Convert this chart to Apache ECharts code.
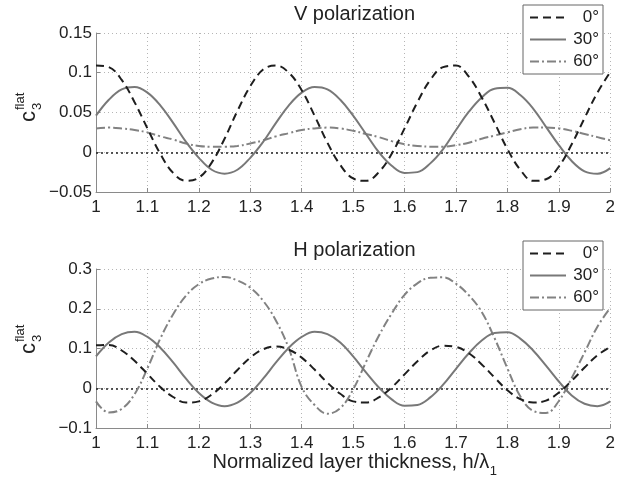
<!DOCTYPE html>
<html><head><meta charset="utf-8">
<script src="https://cdn.jsdelivr.net/npm/echarts@6/dist/echarts.min.js"></script>
<style>html,body{margin:0;padding:0;background:#fff}#c{width:618px;height:482px}</style>
</head><body><div id="c"></div>
<script>
// ---- data ----
const thickness = [1.000,1.025,1.050,1.075,1.100,1.125,1.150,1.175,1.200,1.225,1.250,1.275,1.300,1.325,1.350,1.375,1.400,1.425,1.450,1.475,1.500,1.525,1.550,1.575,1.600,1.625,1.650,1.675,1.700,1.725,1.750,1.775,1.800,1.825,1.850,1.875,1.900,1.925,1.950,1.975,2.000];
const seriesNames = ['0°', '30°', '60°'];
// V polarization
const vDeg0  = [0.109,0.107,0.091,0.063,0.030,-0.002,-0.026,-0.036,-0.032,-0.013,0.017,0.052,0.083,0.104,0.109,0.100,0.078,0.046,0.012,-0.016,-0.033,-0.036,-0.025,-0.002,0.030,0.063,0.091,0.107,0.109,0.095,0.069,0.037,0.004,-0.022,-0.036,-0.034,-0.018,0.010,0.043,0.075,0.101];
const vDeg30 = [0.046,0.066,0.079,0.082,0.075,0.059,0.037,0.013,-0.007,-0.022,-0.027,-0.022,-0.007,0.013,0.037,0.059,0.075,0.082,0.079,0.066,0.046,0.023,0.000,-0.017,-0.026,-0.025,-0.014,0.004,0.028,0.051,0.069,0.080,0.081,0.072,0.055,0.032,0.009,-0.011,-0.024,-0.027,-0.020];
const vDeg60 = [0.030,0.031,0.030,0.028,0.025,0.020,0.016,0.011,0.008,0.007,0.007,0.008,0.011,0.015,0.020,0.024,0.028,0.030,0.031,0.030,0.027,0.023,0.019,0.014,0.010,0.008,0.007,0.007,0.009,0.012,0.017,0.021,0.025,0.029,0.031,0.031,0.030,0.027,0.023,0.019,0.015];
// H polarization
const hDeg0  = [0.108,0.109,0.095,0.069,0.036,0.003,-0.022,-0.036,-0.033,-0.016,0.012,0.046,0.077,0.098,0.105,0.097,0.077,0.047,0.014,-0.014,-0.033,-0.036,-0.023,0.002,0.035,0.068,0.095,0.107,0.104,0.088,0.060,0.027,-0.005,-0.027,-0.036,-0.031,-0.011,0.019,0.052,0.083,0.104];
const hDeg30 = [0.080,0.115,0.136,0.142,0.129,0.102,0.065,0.024,-0.012,-0.036,-0.045,-0.036,-0.012,0.024,0.065,0.102,0.129,0.142,0.136,0.115,0.080,0.040,0.002,-0.028,-0.044,-0.042,-0.023,0.009,0.049,0.088,0.120,0.139,0.141,0.125,0.095,0.057,0.017,-0.018,-0.039,-0.045,-0.033];
const hDeg60 = [-0.033,-0.061,-0.052,-0.015,0.050,0.125,0.186,0.233,0.262,0.276,0.280,0.271,0.253,0.220,0.170,0.100,0.003,-0.042,-0.064,-0.050,-0.003,0.066,0.132,0.188,0.235,0.264,0.278,0.279,0.263,0.234,0.192,0.126,0.050,-0.020,-0.057,-0.062,-0.032,0.026,0.090,0.155,0.202];
// ticks and texts
const xTickLabels = ['1','1.1','1.2','1.3','1.4','1.5','1.6','1.7','1.8','1.9','2'];
const vTickLabels = ['\u22120.05','0','0.05','0.1','0.15'];
const hTickLabels = ['\u22120.1','0','0.1','0.2','0.3'];
const panelTitles = ['V polarization', 'H polarization'];
const xAxisTitle = 'Normalized layer thickness, h/\u03bb';
const xAxisTitleSub = '1';

// ---- chart ----
const FONT = '"Liberation Sans", Arial, Helvetica, sans-serif';
const chart = echarts.init(document.getElementById('c'), null, {renderer: 'canvas'});
const panels = [
  {top: 33, min: -0.05, max: 0.15, interval: 0.05, labels: vTickLabels, data: [vDeg0, vDeg30, vDeg60]},
  {top: 269, min: -0.1, max: 0.3, interval: 0.1, labels: hTickLabels, data: [hDeg0, hDeg30, hDeg60]}
];
const lineStyles = [
  {color: '#1e1e1e', type: [8, 5], width: 2},
  {color: '#787878', type: 'solid', width: 2},
  {color: '#828282', type: [9, 3, 2, 3], width: 2}
];

function measure(t, size) {
  const c = document.createElement('canvas').getContext('2d');
  c.font = size + 'px ' + FONT;
  return c.measureText(t).width;
}

const series = [];
panels.forEach((p, k) => {
  p.data.forEach((arr, j) => {
    const s = {
      name: seriesNames[j], type: 'line', xAxisIndex: k, yAxisIndex: k,
      data: thickness.map((x, i) => [x, arr[i]]),
      showSymbol: false, symbol: 'none', smooth: 0.4,
      lineStyle: lineStyles[j], itemStyle: {color: lineStyles[j].color},
      z: 3 + (2 - j)
    };
    if (j === 0) {
      s.markLine = {silent: true, symbol: 'none', label: {show: false},
        lineStyle: {type: [2, 3], color: '#222', width: 1.6}, data: [{yAxis: 0}], z: 2};
    }
    series.push(s);
  });
});

const xNameSize = 20, subSize = 13;
const wMain = measure(xAxisTitle, xNameSize), wSub = measure(xAxisTitleSub, subSize);
const xName0 = 354.5 - (wMain + wSub) / 2;

function yLabel(gx, gy) {
  const base = {fontFamily: FONT, fill: '#222', align: 'left', verticalAlign: 'middle', textAlign: 'left', textVerticalAlign: 'middle'};
  return {
    type: 'group', x: gx, y: gy, rotation: Math.PI / 2,
    children: [
      {type: 'text', style: Object.assign({text: 'c', x: 0, y: -7.7, fontSize: 22}, base)},
      {type: 'text', style: Object.assign({text: '3', x: 12, y: 0.5, fontSize: 13}, base)},
      {type: 'text', style: Object.assign({text: 'flat', x: 12, y: -16.5, fontSize: 13}, base)}
    ]
  };
}
function txt(text, x, y, size, align) {
  return {type: 'text', style: {text, x, y, fontSize: size, fontFamily: FONT, fill: '#222',
    align: align, verticalAlign: 'middle', textAlign: align, textVerticalAlign: 'middle'}};
}

const option = {
  animation: false,
  backgroundColor: '#fff',
  textStyle: {fontFamily: FONT},
  grid: panels.map(p => ({left: 96, top: p.top, width: 517, height: 159, containLabel: false})),
  xAxis: panels.map((p, k) => ({
    type: 'value', gridIndex: k, min: 1, max: 2, interval: 0.1,
    axisLine: {show: true, onZero: false, lineStyle: {color: '#8a8a8a', width: 1}},
    axisTick: {show: true, inside: true, length: 4, lineStyle: {color: '#8a8a8a'}},
    axisLabel: {fontSize: 17, color: '#222', margin: 7, fontFamily: FONT,
      formatter: v => xTickLabels[Math.round((v - 1) / 0.1)]},
    splitLine: {show: true, lineStyle: {type: [1, 3], color: '#b5b5b5', width: 1}}
  })),
  yAxis: panels.map((p, k) => ({
    type: 'value', gridIndex: k, min: p.min, max: p.max, interval: p.interval,
    axisLine: {show: true, onZero: false, lineStyle: {color: '#8a8a8a', width: 1}},
    axisTick: {show: true, inside: true, length: 4, lineStyle: {color: '#8a8a8a'}},
    axisLabel: {fontSize: 17, color: '#222', margin: 4, fontFamily: FONT,
      formatter: v => p.labels[Math.round((v - p.min) / p.interval)]},
    splitLine: {show: true, lineStyle: {type: [1, 3], color: '#b5b5b5', width: 1}}
  })),
  legend: panels.map((p, k) => ({
    orient: 'vertical', left: 523, top: k ? 241 : 5, data: seriesNames,
    selectedMode: false, itemWidth: 36, itemHeight: 14, itemGap: 5,
    padding: [4, 4, 4, 6], borderColor: '#666', borderWidth: 1, backgroundColor: '#fff',
    itemStyle: {opacity: 0},
    formatter: name => '{r|' + name + '}',
    textStyle: {fontSize: 17, color: '#222', fontFamily: FONT,
      rich: {r: {fontSize: 17, lineHeight: 18, color: '#222', fontFamily: FONT, width: 28, align: 'right'}}}
  })),
  series: series,
  graphic: [
    txt(panelTitles[0], 354.5, 14, 20, 'center'),
    txt(panelTitles[1], 354.5, 250, 20, 'center'),
    txt(xAxisTitle, xName0, 462, xNameSize, 'left'),
    txt(xAxisTitleSub, xName0 + wMain + 0.5, 471, subSize, 'left'),
    yLabel(37, 122),
    yLabel(37, 354)
  ]
};
chart.setOption(option);
</script>
</body></html>
